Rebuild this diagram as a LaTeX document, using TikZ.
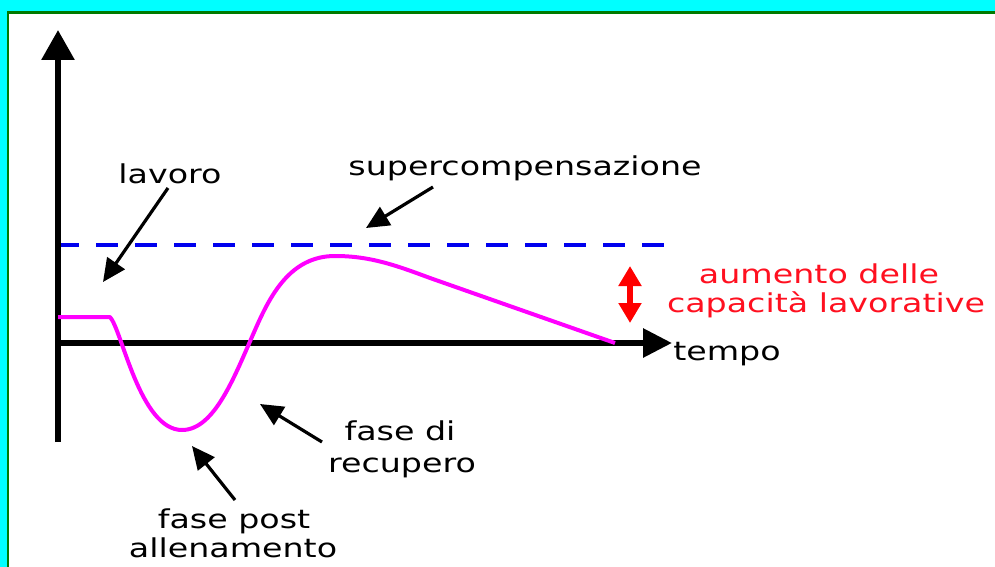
\documentclass[tikz,border=0pt]{standalone}
\usepackage{fontspec}
\setmainfont{DejaVu Sans}
\usetikzlibrary{arrows.meta}
\definecolor{frcyan}{HTML}{00FFFF}
\definecolor{frgreen}{HTML}{007A00}
\definecolor{curvemag}{HTML}{FF00FF}
\definecolor{dashblue}{HTML}{0000EE}
\definecolor{redtxt}{HTML}{FF1020}
\newcommand\wtxt[1]{\scalebox{1.28}[1]{#1}}
\begin{document}
\begin{tikzpicture}[x=1pt,y=-1pt,
  lbl/.style={anchor=base,inner sep=0pt,font=\fontsize{26}{30}\selectfont},
  redlbl/.style={lbl,text=redtxt},
  axisline/.style={line width=6pt,-{Triangle[length=30pt,width=32pt]}},
  callout/.style={line width=3.2pt,-{Triangle[length=23pt,width=21pt]}}]
\useasboundingbox (0,0) rectangle (995,567);
% frame
\fill[frcyan] (0,0) rectangle (995,567);
\fill[white] (9,14) rectangle (995,567);
\draw[frgreen,line width=2.5pt] (7,12.5) -- (995,12.5);
\draw[frgreen,line width=2pt] (8,11) -- (8,567);
% dashed supercompensation level
\draw[dashblue,line width=4.5pt,dash pattern=on 22pt off 17pt] (57,245) -- (665,245);
% axes
\coordinate (origin) at (58,343);
\coordinate (ytop) at (58,30);
\coordinate (ybot) at (58,442);
\coordinate (xend) at (672,343);
\draw[axisline] (ybot) -- (ytop);
\draw[line width=6pt,-{Triangle[length=29pt,width=28pt]}] (origin) -- (xend);
% curve
\draw[curvemag,line width=4pt,line join=round]
  (58,317) -- (110,317)
  .. controls (122,330) and (140,430) .. (182,430)
  .. controls (215,430) and (235,375) .. (255,330)
  .. controls (270,296) and (290,256) .. (335,256)
  .. controls (370,256) and (395,265) .. (430,278)
  -- (615,343);
% labels
\node[lbl] (lavoro) at (170,183) {\wtxt{lavoro}};
\node[lbl] (super) at (525,175) {\wtxt{supercompensazione}};
\node[lbl] (tempo) at (727,360) {\wtxt{tempo}};
\node[lbl] (fasedi) at (400,440) {\wtxt{fase di}};
\node[lbl] (recup) at (402,472) {\wtxt{recupero}};
\node[lbl] (fasepost) at (234,528) {\wtxt{fase post}};
\node[lbl] (allen) at (233,557) {\wtxt{allenamento}};
\node[redlbl] (aumento) at (819,283) {\wtxt{aumento delle}};
\node[redlbl] (capac) at (826,312) {\wtxt{capacità lavorative}};
% callout arrows
\coordinate (lavS) at (168,188);
\coordinate (lavT) at (103,282);
\coordinate (supS) at (433,187);
\coordinate (supT) at (366,228);
\coordinate (recS) at (322,442);
\coordinate (recT) at (260,404);
\coordinate (posS) at (235,500);
\coordinate (posT) at (192,446);
\draw[callout] (lavS) -- (lavT);
\draw[callout] (supS) -- (supT);
\draw[callout] (recS) -- (recT);
\draw[callout] (posS) -- (posT);
% red double arrow
\coordinate (rtop) at (630,266);
\coordinate (rbot) at (630,323);
\draw[red,line width=6pt,{Triangle[length=20pt,width=22pt]}-{Triangle[length=20pt,width=22pt]}] (rtop) -- (rbot);
\end{tikzpicture}
\end{document}
